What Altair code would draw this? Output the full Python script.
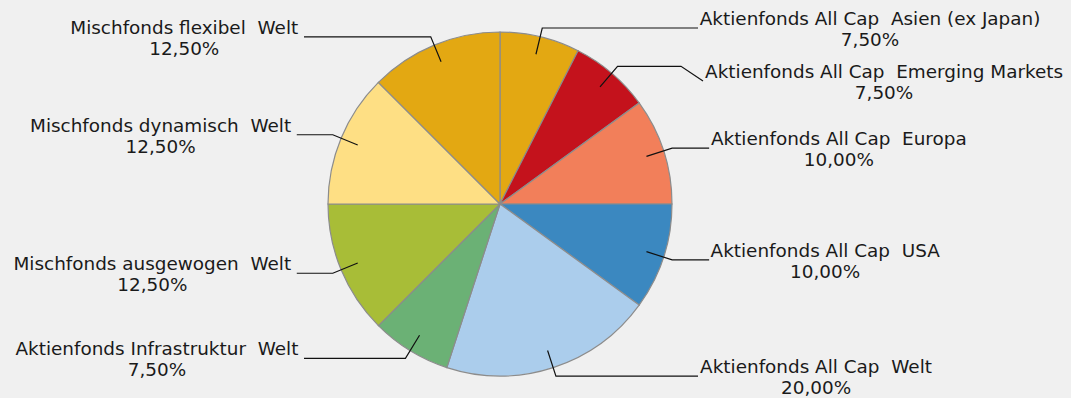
import math
import altair as alt
import pandas as pd

# ---- data ----
names = [
    "Aktienfonds All Cap  Asien (ex Japan)",
    "Aktienfonds All Cap  Emerging Markets",
    "Aktienfonds All Cap  Europa",
    "Aktienfonds All Cap  USA",
    "Aktienfonds All Cap  Welt",
    "Aktienfonds Infrastruktur  Welt",
    "Mischfonds ausgewogen  Welt",
    "Mischfonds dynamisch  Welt",
    "Mischfonds flexibel  Welt",
]
values = [7.5, 7.5, 10.0, 10.0, 20.0, 7.5, 12.5, 12.5, 12.5]
colors = ["#E3A812", "#C4121C", "#F27F5A", "#3B88C0", "#ABCDEC",
          "#6BB175", "#A8BD37", "#FEDF84", "#E3A812"]

# ---- layout ----
W, H = 1071, 398
CX, CY, R = 500, 204, 172
R_IN, R_OUT = 154, 181
FS = 18.4
FONT = "DejaVu Sans"

# approximate DejaVu Sans advance widths (em)
CW = {" ": 0.318, "\u00a0": 0.318, "%": 0.950, "(": 0.390, ")": 0.390, ",": 0.318,
      "A": 0.684, "C": 0.698, "E": 0.632, "I": 0.295, "J": 0.295, "M": 0.863,
      "S": 0.635, "U": 0.733, "W": 0.989, "a": 0.613, "b": 0.635, "c": 0.550,
      "d": 0.635, "e": 0.615, "f": 0.352, "g": 0.635, "h": 0.634, "i": 0.278,
      "k": 0.579, "l": 0.278, "m": 0.974, "n": 0.634, "o": 0.612, "p": 0.635,
      "r": 0.411, "s": 0.521, "t": 0.392, "u": 0.634, "w": 0.818, "x": 0.592,
      "y": 0.592}


def text_w(s):
    return sum(CW.get(ch, 0.636) for ch in s) * FS


def disp(s):
    return s.replace("  ", " \u00a0")


total = sum(values)
cum = 0.0
geo = []
for i, (n, v) in enumerate(zip(names, values)):
    mid = (cum + v / 2) / total * 2 * math.pi
    cum += v
    s, c = math.sin(mid), math.cos(mid)
    geo.append(dict(i=i, name=n, v=v, right=s > 0,
                    ix=CX + R_IN * s, iy=CY - R_IN * c,
                    ex=CX + R_OUT * s, ey=CY - R_OUT * c))

# simple vertical collision avoidance per side
for side in (True, False):
    items = sorted([g for g in geo if g["right"] == side], key=lambda g: g["ey"])
    prev = -1e9
    for g in items:
        g["ly"] = max(g["ey"], prev + 53)
        g["shift"] = g["ly"] - g["ey"] > 1
        prev = g["ly"]

line_rows, text_rows = [], []
for g in geo:
    if g["right"]:
        end_x = max(g["ex"] + 37, 698) + (5 if g["shift"] else 0)
    else:
        end_x = min(g["ex"] - 36, 304)
    pts = [(g["ix"], g["iy"]), (g["ex"], g["ey"])]
    if g["shift"]:
        pts.append((end_x - 22, g["ey"]))
    pts.append((end_x, g["ly"]))
    for k, (px, py) in enumerate(pts):
        line_rows.append(dict(name=g["name"], seq=k, x=px, y=py))
    l1 = disp(g["name"])
    l2 = f"{g['v']:.2f}".replace(".", ",") + "%"
    w = text_w(l1)
    if g["right"]:
        cx = end_x + 1.5 + w / 2
    else:
        cx = end_x - 5 - w / 2
    text_rows.append(dict(name=g["name"], l1=l1, l2=l2, tx=cx,
                          ty1=g["ly"] - 3, ty2=g["ly"] + 18))

pie_df = pd.DataFrame({"name": names, "value": values, "idx": list(range(len(names)))})
lines_df = pd.DataFrame(line_rows)
text_df = pd.DataFrame(text_rows)

xs = alt.Scale(domain=[0, W], nice=False, zero=False)
ys = alt.Scale(domain=[0, H], nice=False, zero=False, reverse=True)

pie = alt.Chart(pie_df).mark_arc(radius=R, stroke="#8C8C8C", strokeWidth=1.2).encode(
    theta=alt.Theta("value:Q", stack=True),
    order=alt.Order("idx:Q"),
    color=alt.Color("name:N", scale=alt.Scale(domain=names, range=colors), legend=None),
    x=alt.value(CX),
    y=alt.value(CY),
)

leaders = alt.Chart(lines_df).mark_line(color="#111111", strokeWidth=1.2).encode(
    x=alt.X("x:Q", scale=xs, axis=None),
    y=alt.Y("y:Q", scale=ys, axis=None),
    detail="name:N",
    order="seq:Q",
)

t1 = alt.Chart(text_df).mark_text(font=FONT, fontSize=FS, color="#1A1A1A",
                                  align="center", baseline="alphabetic").encode(
    x=alt.X("tx:Q", scale=xs, axis=None),
    y=alt.Y("ty1:Q", scale=ys, axis=None),
    text="l1:N",
)
t2 = alt.Chart(text_df).mark_text(font=FONT, fontSize=FS, color="#1A1A1A",
                                  align="center", baseline="alphabetic").encode(
    x=alt.X("tx:Q", scale=xs, axis=None),
    y=alt.Y("ty2:Q", scale=ys, axis=None),
    text="l2:N",
)

chart = alt.layer(pie, leaders, t1, t2).properties(
    width=W, height=H, padding=0, background="#F0F0F0",
    autosize=alt.AutoSizeParams(type="none"),
).configure_view(stroke=None)

chart.save("out.html", embed_options={"renderer": "svg", "actions": False})
